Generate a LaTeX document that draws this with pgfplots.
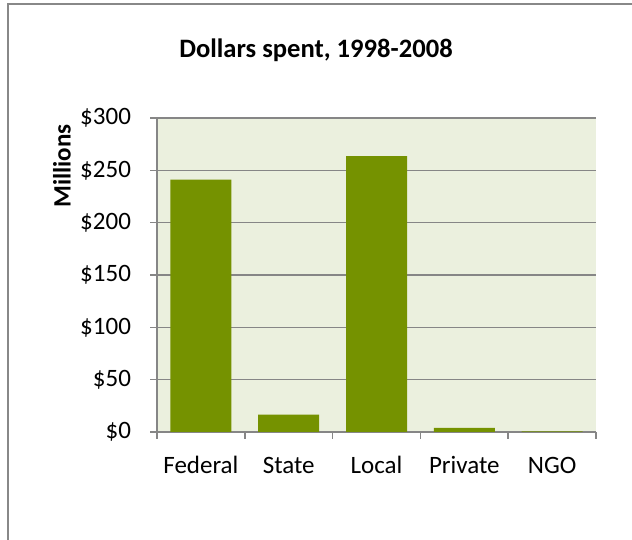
\documentclass[border=0pt]{standalone}
\usepackage{fontspec}
\setmainfont{Carlito}
\usepackage{pgfplots}
\pgfplotsset{compat=1.18}

\definecolor{barolive}{RGB}{117,146,0}
\definecolor{plotbg}{RGB}{235,240,222}
\definecolor{gridgray}{RGB}{134,134,134}
\definecolor{framegray}{RGB}{136,136,136}

\begin{document}
% 1px of the reference = 0.5pt here
\begin{tikzpicture}
  \useasboundingbox (0,0) rectangle (316pt,270pt);
  % chart frame (cut off at right and bottom)
  \draw[framegray,line width=1pt] (3.75pt,0) -- (3.75pt,267.75pt) -- (316pt,267.75pt);
  \node[font=\fontsize{13.3}{16}\selectfont\bfseries] at (158pt,245pt) {Dollars spent, 1998-2008};
  \node[font=\fontsize{12.5}{15}\selectfont\bfseries,rotate=90] at (31pt,187pt) {Millions};

  \begin{axis}[
      at={(78.5pt,54pt)}, anchor=south west,
      scale only axis,
      width=219.5pt, height=157pt,
      xmin=-0.5, xmax=4.5,
      ymin=0, ymax=300,
      axis x line*=bottom,
      axis y line*=left,
      axis line style={gridgray,line width=0.75pt,-},
      axis background/.style={fill=plotbg},
      xtick={0,1,2,3,4},
      xticklabels={Federal,State,Local,Private,NGO},
      minor xtick={-0.5,0.5,1.5,2.5,3.5,4.5},
      ytick={0,50,...,300},
      yticklabels={\$0,\$50,\$100,\$150,\$200,\$250,\$300},
      ymajorgrids,
      grid style={gridgray,line width=0.75pt},
      tick align=outside,
      major tick length=3.5pt,
      minor tick length=3.5pt,
      x tick style={draw=none},
      minor x tick style={draw=gridgray,line width=0.75pt},
      y tick style={gridgray,line width=0.75pt},
      tick label style={font=\fontsize{12.5}{15}\selectfont},
      yticklabel style={xshift=-6pt},
      xticklabel style={anchor=base,yshift=-17.5pt},
      ybar, bar width=30.5pt,
      clip=false,
    ]
    \addplot[fill=barolive,draw=none] coordinates {
      (0,241) (1,16.5) (2,263.5) (3,4) (4,0.6)
    };
  \end{axis}
\end{tikzpicture}
\end{document}
